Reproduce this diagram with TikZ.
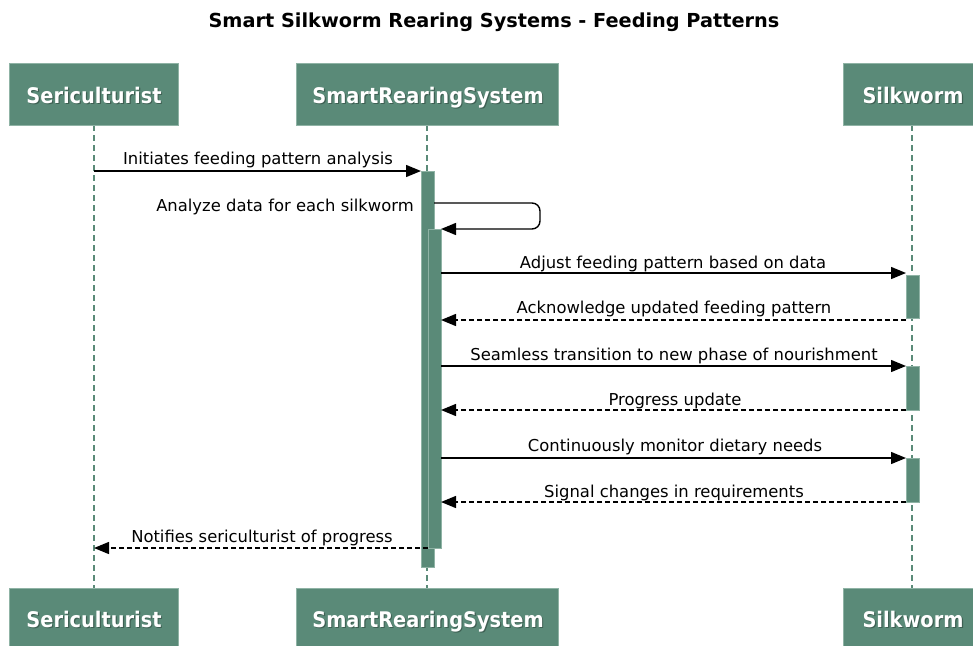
\documentclass[tikz,border=0pt]{standalone}
\usepackage{fontspec}
\setmainfont{DejaVu Sans}
\newfontfamily\condfont{DejaVu Sans Condensed}
\usetikzlibrary{arrows.meta}
\definecolor{pfill}{HTML}{5A8A78}
\definecolor{pedge}{HTML}{8FB3A5}
\begin{document}
\begin{tikzpicture}[x=1pt,y=-1pt,
  participant/.style={draw=pedge,fill=pfill,line width=0.8pt,inner sep=0pt},
  ptext/.style={text=white,inner sep=0pt,anchor=base,font=\condfont\bfseries\fontsize{21.5}{24}\selectfont},
  pshadow/.style={text=black,opacity=0.3,inner sep=0pt,anchor=base,font=\condfont\bfseries\fontsize{21.5}{24}\selectfont},
  lifeline/.style={draw=pfill,line width=2.6pt,dash pattern=on 6pt off 4pt},
  actbar/.style={draw=pedge,fill=pfill,line width=0.6pt},
  msg/.style={draw=black,line width=1.4pt,-{Triangle[length=15pt,width=12pt]}},
  ret/.style={msg,dash pattern=on 5pt off 3pt},
  mlabel/.style={font=\fontsize{16.4}{19}\selectfont,inner sep=0pt,anchor=base},
]
\useasboundingbox (0,0) rectangle (973,645);
\node[font=\bfseries\fontsize{19.3}{22}\selectfont,anchor=base] (title) at (494,27) {Smart Silkworm Rearing Systems - Feeding Patterns};

% lifelines
\coordinate (sT) at (94,125); \coordinate (sB) at (94,588);
\coordinate (rT) at (427,125); \coordinate (rB) at (427,588);
\coordinate (wT) at (912,125); \coordinate (wB) at (912,588);
\draw[lifeline] (sT) -- (sB);
\draw[lifeline] (rT) -- (rB);
\draw[lifeline] (wT) -- (wB);

% participant boxes
\foreach \xa/\xb in {9/178, 296/558, 843/985}{
  \draw[participant] (\xa,63) rectangle (\xb,125);
  \draw[participant] (\xa,588) rectangle (\xb,660);
}
\node[pshadow] at (95.2,104.2) {Sericulturist};
\node[ptext] (sTop) at (94,103) {Sericulturist};
\node[pshadow] at (429.2,104.2) {SmartRearingSystem};
\node[ptext] (rTop) at (428,103) {SmartRearingSystem};
\node[pshadow] at (914.2,104.2) {Silkworm};
\node[ptext] (wTop) at (913,103) {Silkworm};
\node[pshadow] at (95.2,628.2) {Sericulturist};
\node[ptext] (sBot) at (94,627) {Sericulturist};
\node[pshadow] at (429.2,628.2) {SmartRearingSystem};
\node[ptext] (rBot) at (428,627) {SmartRearingSystem};
\node[pshadow] at (914.2,628.2) {Silkworm};
\node[ptext] (wBot) at (913,627) {Silkworm};

% activation bars
\draw[actbar] (421,171) rectangle (434,567);
\draw[actbar] (428,229) rectangle (441,548);
\draw[actbar] (906,275) rectangle (919,318);
\draw[actbar] (906,366) rectangle (919,410);
\draw[actbar] (906,458) rectangle (919,502);

% named message end points
\coordinate (m1a) at (94,171);  \coordinate (m1b) at (421,171);
\coordinate (m2a) at (434,203); \coordinate (m2b) at (441,229);
\coordinate (m3a) at (441,273); \coordinate (m3b) at (906,273);
\coordinate (m4a) at (906,320); \coordinate (m4b) at (441,320);
\coordinate (m5a) at (441,366); \coordinate (m5b) at (906,366);
\coordinate (m6a) at (906,410); \coordinate (m6b) at (441,410);
\coordinate (m7a) at (441,458); \coordinate (m7b) at (906,458);
\coordinate (m8a) at (906,502); \coordinate (m8b) at (441,502);
\coordinate (m9a) at (428,548); \coordinate (m9b) at (94,548);

\draw[msg] (m1a) -- (m1b);
\node[mlabel] (l1) at (258,164) {Initiates feeding pattern analysis};

\draw[msg,rounded corners=8pt] (m2a) -- (540,203) -- (540,229) -- (m2b);
\node[mlabel,anchor=base east] (l2) at (414,211) {Analyze data for each silkworm};

\draw[msg] (m3a) -- (m3b);
\node[mlabel] (l3) at (673,268) {Adjust feeding pattern based on data};
\draw[ret] (m4a) -- (m4b);
\node[mlabel] (l4) at (674,313) {Acknowledge updated feeding pattern};
\draw[msg] (m5a) -- (m5b);
\node[mlabel] (l5) at (674,360) {Seamless transition to new phase of nourishment};
\draw[ret] (m6a) -- (m6b);
\node[mlabel] (l6) at (675,405) {Progress update};
\draw[msg] (m7a) -- (m7b);
\node[mlabel] (l7) at (675,451) {Continuously monitor dietary needs};
\draw[ret] (m8a) -- (m8b);
\node[mlabel] (l8) at (674,497) {Signal changes in requirements};
\draw[ret] (m9a) -- (m9b);
\node[mlabel] (l9) at (262,542) {Notifies sericulturist of progress};
\end{tikzpicture}
\end{document}
